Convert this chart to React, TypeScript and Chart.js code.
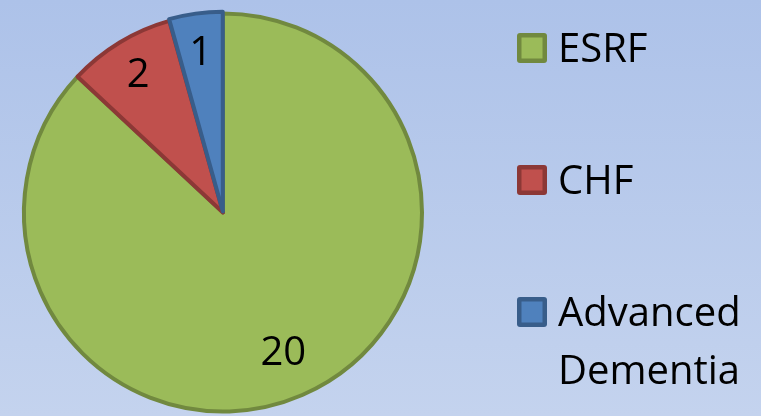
import React, { useEffect, useRef } from "react";
import { Chart, registerables } from "chart.js";

Chart.register(...registerables);

const categories = ["ESRF", "CHF", "Advanced Dementia"];
const values = [20, 2, 1];
const fillColors = ["#9BBB59", "#C0504D", "#4F81BD"];
const borderColors = ["#71893F", "#8C3836", "#385D8A"];

const FONT_FAMILY = "'Open Sans', 'Liberation Sans', sans-serif";
const FONT_SIZE = 40;

export default function App() {
  const ref = useRef<HTMLCanvasElement | null>(null);

  useEffect(() => {
    document.body.style.margin = "0";
    const canvas = ref.current;
    if (!canvas) return;

    const bgPlugin = {
      id: "bgGradient",
      beforeDraw(chart: any) {
        const { ctx, width, height } = chart;
        const g = ctx.createLinearGradient(0, 0, 0, height);
        g.addColorStop(0, "#ADC2E9");
        g.addColorStop(1, "#C4D3EE");
        ctx.save();
        ctx.fillStyle = g;
        ctx.fillRect(0, 0, width, height);
        ctx.restore();
      },
    };

    const sliceLabelPlugin = {
      id: "sliceLabels",
      afterDatasetsDraw(chart: any) {
        const { ctx } = chart;
        const meta = chart.getDatasetMeta(0);
        const total = values.reduce((a, b) => a + b, 0);
        ctx.save();
        ctx.font = `${FONT_SIZE}px ${FONT_FAMILY}`;
        ctx.fillStyle = "#000000";
        ctx.textAlign = "center";
        ctx.textBaseline = "alphabetic";
        meta.data.forEach((arc: any, i: number) => {
          const p = arc.getProps(["x", "y", "startAngle", "endAngle", "outerRadius"], true);
          const mid = (p.startAngle + p.endAngle) / 2;
          const f = values[i] / total > 0.5 ? 0.76 : 0.82;
          const cx = p.x + Math.cos(mid) * p.outerRadius * f;
          const cy = p.y + Math.sin(mid) * p.outerRadius * f;
          ctx.fillText(String(values[i]), cx, cy + FONT_SIZE * 0.357);
        });
        ctx.restore();
      },
    };

    const legendPlugin = {
      id: "customLegend",
      afterDraw(chart: any) {
        const { ctx, width } = chart;
        const boxX = 517;
        const boxSize = 30;
        const firstTop = 33;
        const step = 132;
        const textX = 558;
        const lineHeight = 58;
        ctx.save();
        ctx.font = `${FONT_SIZE}px ${FONT_FAMILY}`;
        ctx.textAlign = "left";
        ctx.textBaseline = "alphabetic";
        const labels: string[] = chart.data.labels;
        labels.forEach((label: string, i: number) => {
          const top = firstTop + i * step;
          ctx.fillStyle = borderColors[i];
          ctx.beginPath();
          ctx.roundRect(boxX, top, boxSize, boxSize, 3);
          ctx.fill();
          ctx.fillStyle = fillColors[i];
          ctx.fillRect(boxX + 4.5, top + 4.5, boxSize - 9, boxSize - 9);
          const maxW = width - textX - 4;
          const words = label.split(" ");
          const lines: string[] = [];
          let cur = "";
          words.forEach((w) => {
            const test = cur ? cur + " " + w : w;
            if (cur && ctx.measureText(test).width > maxW) {
              lines.push(cur);
              cur = w;
            } else {
              cur = test;
            }
          });
          if (cur) lines.push(cur);
          ctx.fillStyle = "#000000";
          lines.forEach((ln, j) => {
            ctx.fillText(ln, textX, top + 29 + j * lineHeight);
          });
        });
        ctx.restore();
      },
    };

    const chart = new Chart(canvas, {
      type: "pie",
      data: {
        labels: categories,
        datasets: [
          {
            data: values,
            backgroundColor: fillColors,
            borderColor: borderColors,
            borderWidth: 4,
            borderJoinStyle: "round",
            offset: [0, 0, 4],
            radius: 199,
          } as any,
        ],
      },
      options: {
        responsive: false,
        devicePixelRatio: 1,
        animation: false,
        layout: { padding: { left: 21, right: 336, top: 12, bottom: 3 } },
        plugins: {
          legend: { display: false },
          tooltip: { enabled: false },
        },
      },
      plugins: [bgPlugin, sliceLabelPlugin, legendPlugin],
    });

    return () => chart.destroy();
  }, []);

  return (
    <div style={{ width: 761, height: 416 }}>
      <canvas ref={ref} width={761} height={416} style={{ display: "block" }} />
    </div>
  );
}
